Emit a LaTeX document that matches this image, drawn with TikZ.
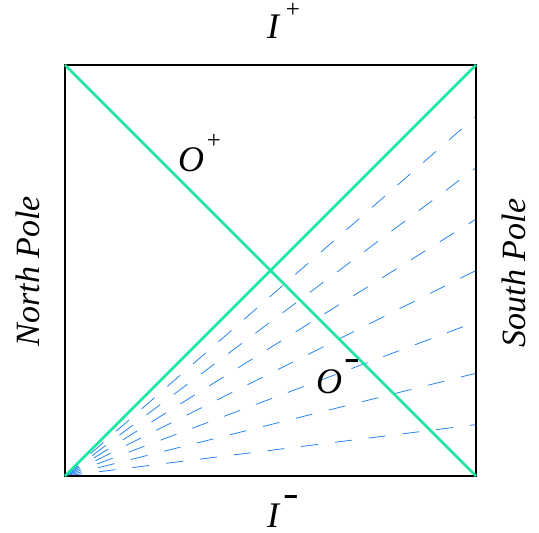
\documentclass[tikz,border=0pt]{standalone}
\usepackage{fontspec}
\usetikzlibrary{calc}
\setmainfont{Liberation Serif}
\definecolor{cgreen}{RGB}{25,230,160}
\definecolor{cblue}{RGB}{35,132,242}
\begin{document}
\begin{tikzpicture}[x=1pt,y=-1pt,
  frame/.style={line width=2.6pt,black},
  horizon/.style={line width=2.6pt,cgreen},
  ray/.style={line width=0.8pt,cblue,dash pattern=on 17pt off 17pt},
  lbl/.style={inner sep=0pt,anchor=base,text height=24pt,text depth=0pt,font=\fontsize{36}{40}\selectfont\itshape},
  pole/.style={inner sep=0pt,rotate=90,font=\fontsize{34}{38}\selectfont\itshape},
  supp/.style={inner sep=0pt,text height=10pt,text depth=0pt,anchor=base,font=\fontsize{25}{27}\selectfont},
  supm/.style={inner sep=0pt,font=\fontsize{36}{38}\selectfont\bfseries}]
\useasboundingbox (0,0) rectangle (539,533);
\coordinate (BL) at (65,476);
\coordinate (BR) at (476,476);
\coordinate (TR) at (476,65);
\coordinate (TL) at (65,65);
\foreach \k in {1,...,7}{
  \coordinate (R\k) at ($(BR)!\k/8!(TR)$);
  \draw[ray] (BL) -- (R\k);
}
\draw[frame] (TL) rectangle (BR);
\draw[horizon] (TL) -- (BR);
\draw[horizon] (BL) -- (TR);
\node[lbl] (Ip) at (273,38) {I};
\node[supp] (Ipp) at (293,17) {+};
\node[lbl] (Im) at (273,527) {I};
\node[supm] (Imm) at (291,500) {\scalebox{1.3}[1]{-}};
\node[lbl] (Op) at (191,171) {O};
\node[supp] (Opp) at (214,148) {+};
\node[lbl] (Om) at (329,393) {O};
\node[supm] (Omm) at (352,364) {\scalebox{1.3}[1]{-}};
\node[pole] (NP) at (28,271) {North Pole};
\node[pole] (SP) at (514,273) {South Pole};
\end{tikzpicture}
\end{document}
